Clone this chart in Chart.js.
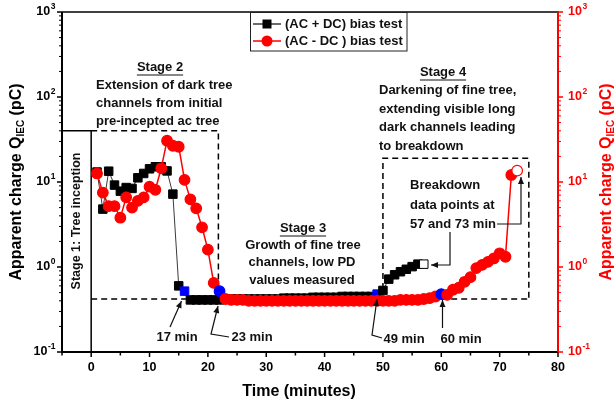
<!DOCTYPE html>
<html>
<head>
<meta charset="utf-8">
<script src="https://cdn.jsdelivr.net/npm/chart.js@4.4.1/dist/chart.umd.min.js"></script>
<style>
  html, body { margin: 0; padding: 0; background: #fff; }
  #wrap { width: 616px; height: 407px; }
</style>
</head>
<body>
<div id="wrap"><canvas id="qiecChart" width="616" height="407"></canvas></div>
<script>
'use strict';

/* ── Data ─────────────────────────────────── */
const SERIES_LABELS = ['(AC + DC) bias test', '(AC - DC ) bias test'];

// (AC + DC) bias test — time (min) / apparent charge (pC)
const TIME_PLUS = [1,2,3,4,5,6,7,8,9,10,11,12,13,14,15,16,17,18,19,20,
  21,22,23,24,25,26,27,28,29,30,31,32,33,34,35,36,37,38,39,40,
  41,42,43,44,45,46,47,48,49,50,51,52,53,54,55,56,57];
const Q_PLUS = [13.1,4.8,13.4,9.2,7.8,8.6,8.4,11.2,12.6,14.3,15.1,15.1,13.5,7.2,0.60,0.52,0.41,0.41,0.41,0.41,
  0.41,0.41,0.42,0.42,0.42,0.42,0.42,0.42,0.42,0.42,0.42,0.42,0.43,0.43,0.43,0.43,0.43,0.44,0.44,0.44,
  0.44,0.44,0.45,0.45,0.45,0.45,0.45,0.45,0.48,0.53,0.72,0.81,0.88,0.94,1.01,1.08,1.08];

// (AC - DC) bias test
const TIME_MINUS = [1,2,3,4,5,6,7,8,9,10,11,12,13,14,15,16,17,18,19,20,
  21,22,23,24,25,26,27,28,29,30,31,32,33,34,35,36,37,38,39,40,
  41,42,43,44,45,46,47,48,49,50,51,52,53,54,55,56,57,58,59,60,
  61,62,63,64,65,66,67,68,69,70,71,72,73];
const Q_MINUS = [12.6,7.5,5.2,5.2,3.8,6.6,5.0,6.0,6.6,8.8,8.1,14.5,30.6,26.7,26.0,10.6,6.25,4.9,2.93,1.6,
  0.65,0.52,0.42,0.41,0.41,0.41,0.40,0.40,0.40,0.40,0.40,0.40,0.40,0.40,0.40,0.40,0.40,0.40,0.40,0.40,
  0.40,0.40,0.40,0.40,0.40,0.40,0.40,0.40,0.40,0.40,0.40,0.40,0.41,0.41,0.41,0.41,0.42,0.43,0.45,0.48,
  0.47,0.54,0.57,0.67,0.76,0.97,1.06,1.15,1.26,1.45,1.32,12.1,13.6];

const BLUE_PLUS  = [16, 49];   // highlighted stage transitions
const OPEN_PLUS  = [57];       // breakdown point
const BLUE_MINUS = [22, 60];
const OPEN_MINUS = [73];

const X_TICKS     = [0, 10, 20, 30, 40, 50, 60, 70, 80];
const X_MINOR     = [-5, 5, 15, 25, 35, 45, 55, 65, 75];
const Y_DECADES   = [-1, 0, 1, 2, 3];

/* ── Style ────────────────────────────────── */
const FONT  = "'Liberation Sans', Arial, sans-serif";
const BLACK = '#000000';
const RED   = '#ff0000';
const BLUE  = '#0000ff';
const GREY  = '#3a3a3a';

/* ── Helpers ──────────────────────────────── */
function bold(size) { return `bold ${size}px ${FONT}`; }

function line(ctx, pts, width, color, dash) {
  ctx.save();
  ctx.strokeStyle = color; ctx.lineWidth = width;
  ctx.setLineDash(dash || []);
  ctx.beginPath();
  pts.forEach((p, i) => i ? ctx.lineTo(p[0], p[1]) : ctx.moveTo(p[0], p[1]));
  ctx.stroke();
  ctx.restore();
}

function arrow(ctx, pts) {
  line(ctx, pts, 1.2, '#111');
  const [x1, y1] = pts[pts.length - 2];
  const [x2, y2] = pts[pts.length - 1];
  const a = Math.atan2(y2 - y1, x2 - x1);
  const L = 7, W = 3;
  ctx.save();
  ctx.fillStyle = '#111';
  ctx.beginPath();
  ctx.moveTo(x2, y2);
  ctx.lineTo(x2 - L * Math.cos(a) + W * Math.sin(a), y2 - L * Math.sin(a) - W * Math.cos(a));
  ctx.lineTo(x2 - L * Math.cos(a) - W * Math.sin(a), y2 - L * Math.sin(a) + W * Math.cos(a));
  ctx.closePath();
  ctx.fill();
  ctx.restore();
}

function text(ctx, s, x, y, align, size, color) {
  ctx.save();
  ctx.font = bold(size || 13);
  ctx.fillStyle = color || '#111';
  ctx.textAlign = align || 'left';
  ctx.textBaseline = 'middle';
  ctx.fillText(s, x, y);
  ctx.restore();
}

function underlined(ctx, s, cx, y) {
  text(ctx, s, cx, y, 'center');
  ctx.save();
  ctx.font = bold(13);
  const w = ctx.measureText(s).width;
  ctx.restore();
  line(ctx, [[cx - w / 2, y + 8], [cx + w / 2, y + 8]], 1, '#111');
}

// "10" with superscript exponent
function powLabel(ctx, exp, x, y, alignRight, color) {
  ctx.save();
  ctx.fillStyle = color;
  ctx.textBaseline = 'middle';
  ctx.textAlign = 'left';
  ctx.font = bold(12.5);
  const w1 = ctx.measureText('10').width;
  ctx.font = bold(8.5);
  const w2 = ctx.measureText(String(exp)).width;
  const x0 = alignRight ? x - w1 - w2 : x;
  ctx.font = bold(12.5);
  ctx.fillText('10', x0, y);
  ctx.font = bold(8.5);
  ctx.fillText(String(exp), x0 + w1 + 0.5, y - 5);
  ctx.restore();
}

// rotated axis title with IEC subscript
function yTitle(ctx, cx, cy, color) {
  const parts = [['Apparent charge Q', 16, 0], ['IEC', 10, 4], [' (pC)', 16, 0]];
  ctx.save();
  ctx.translate(cx, cy);
  ctx.rotate(-Math.PI / 2);
  ctx.fillStyle = color;
  ctx.textBaseline = 'middle';
  ctx.textAlign = 'left';
  let total = 0;
  parts.forEach(p => { ctx.font = bold(p[1]); total += ctx.measureText(p[0]).width; });
  let x = -total / 2;
  parts.forEach(p => {
    ctx.font = bold(p[1]);
    ctx.fillText(p[0], x, p[2]);
    x += ctx.measureText(p[0]).width;
  });
  ctx.restore();
}

/* ── Figure decorations plugin ────────────── */
const figureDecor = {
  id: 'figureDecor',
  beforeDatasetsDraw(chart) {
    const { ctx, scales: { x, y } } = chart;
    const px = v => x.getPixelForValue(v);
    const py = v => y.getPixelForValue(v);
    const dash = [6, 4];
    // Stage 1 (solid)
    line(ctx, [[px(-5), py(40)], [px(0), py(40)], [px(0), py(0.1)]], 1.5, BLACK);
    // Stage 2 (dashed)
    line(ctx, [[px(0), py(40)], [px(21.8), py(40)], [px(21.8), py(0.42)]], 1.5, BLACK, dash);
    // low-PD baseline
    line(ctx, [[px(0), py(0.42)], [px(75), py(0.42)]], 1.5, BLACK, dash);
    // Stage 4 (dashed)
    line(ctx, [[px(50), py(0.42)], [px(50), py(19)], [px(75), py(19)], [px(75), py(0.42)]], 1.5, BLACK, dash);
  },
  afterDatasetsDraw(chart) {
    const { ctx, chartArea: ca, scales: { x, y } } = chart;

    /* axes frame */
    line(ctx, [[ca.left, ca.top], [ca.right, ca.top]], 1.5, BLACK);
    line(ctx, [[ca.left, ca.top], [ca.left, ca.bottom + 1]], 2, BLACK);
    line(ctx, [[ca.left - 1, ca.bottom], [ca.right, ca.bottom]], 2, BLACK);
    line(ctx, [[ca.right, ca.top - 1], [ca.right, ca.bottom + 1]], 2, RED);

    /* x ticks */
    X_TICKS.forEach(t => {
      const xp = x.getPixelForValue(t);
      line(ctx, [[xp, ca.bottom], [xp, ca.bottom + 5]], 1.5, BLACK);
      text(ctx, String(t), xp, ca.bottom + 16, 'center', 12.5, BLACK);
    });
    X_MINOR.forEach(t => {
      const xp = x.getPixelForValue(t);
      line(ctx, [[xp, ca.bottom], [xp, ca.bottom + 3.5]], 1.5, BLACK);
    });

    /* y ticks (left black, right red) */
    Y_DECADES.forEach(d => {
      const base = Math.pow(10, d);
      const yp = y.getPixelForValue(base);
      line(ctx, [[ca.left - 5, yp], [ca.left, yp]], 1.5, BLACK);
      line(ctx, [[ca.right, yp], [ca.right + 5, yp]], 1.5, RED);
      powLabel(ctx, d, 55, yp, true, BLACK);
      powLabel(ctx, d, 568, yp, false, RED);
      if (d === 3) return;
      for (let k = 2; k <= 9; k++) {
        const ym = y.getPixelForValue(k * base);
        line(ctx, [[ca.left - 3, ym], [ca.left, ym]], 1, BLACK);
        line(ctx, [[ca.right, ym], [ca.right + 3, ym]], 1, RED);
      }
    });

    /* axis titles */
    yTitle(ctx, 17, 182, BLACK);
    yTitle(ctx, 607, 182, RED);
    text(ctx, 'Time (minutes)', 299, 392, 'center', 16, BLACK);

    /* Stage 1 */
    ctx.save();
    ctx.translate(77, 221);
    ctx.rotate(-Math.PI / 2);
    text(ctx, 'Stage 1: Tree inception', 0, 0, 'center', 12.5);
    ctx.restore();

    /* Stage 2 */
    underlined(ctx, 'Stage 2', 160, 67);
    text(ctx, 'Extension of dark tree', 96, 85);
    text(ctx, 'channels from initial', 96, 103);
    text(ctx, 'pre-incepted ac tree', 96, 121);

    /* Stage 3 */
    underlined(ctx, 'Stage 3', 303, 228);
    text(ctx, 'Growth of fine tree', 303, 245, 'center');
    text(ctx, 'channels, low PD', 302, 262, 'center');
    text(ctx, 'values measured', 302, 280, 'center');

    /* Stage 4 */
    underlined(ctx, 'Stage 4', 443, 72);
    text(ctx, 'Darkening of fine tree,', 379, 90);
    text(ctx, 'extending visible long', 379, 109);
    text(ctx, 'dark channels leading', 379, 127);
    text(ctx, 'to breakdown', 379, 146);

    text(ctx, 'Breakdown', 410, 185);
    text(ctx, 'data points at', 410, 205);
    text(ctx, '57 and 73 min', 410, 224);

    /* arrow labels */
    text(ctx, '17 min', 177, 337, 'center');
    text(ctx, '23 min', 252, 337, 'center');
    text(ctx, '49 min', 404, 339, 'center');
    text(ctx, '60 min', 461, 339, 'center');

    arrow(ctx, [[170, 327], [181.5, 301]]);
    arrow(ctx, [[229, 337], [211, 334], [218, 306]]);
    arrow(ctx, [[382, 338], [372, 335], [377, 299]]);
    arrow(ctx, [[442.5, 328], [442.5, 300]]);
    arrow(ctx, [[497, 224], [521, 224], [521, 177]]);
    arrow(ctx, [[450, 232], [450, 265], [431, 265]]);

    /* legend */
    ctx.save();
    ctx.fillStyle = '#fff';
    ctx.fillRect(250, 12.5, 157, 38.5);
    ctx.strokeStyle = '#222'; ctx.lineWidth = 1;
    ctx.strokeRect(250.5, 12.5, 156.5, 38.5);
    ctx.restore();
    const rows = [[24, GREY, BLACK, 'rect'], [41, RED, RED, 'circle']];
    SERIES_LABELS.forEach((label, i) => {
      const [ly, lineColor, fill, shape] = rows[i];
      line(ctx, [[253, ly], [281, ly]], 1.5, lineColor);
      ctx.save();
      ctx.fillStyle = fill;
      ctx.beginPath();
      if (shape === 'rect') ctx.rect(262.5, ly - 4.5, 9, 9);
      else ctx.arc(267, ly, 5.5, 0, Math.PI * 2);
      ctx.fill();
      ctx.restore();
      text(ctx, label, 285, ly, 'left', 13, '#111');
    });
  }
};

/* ── Chart ────────────────────────────────── */
function initChargeChart() {
  const canvas = document.getElementById('qiecChart');

  const plusFill  = TIME_PLUS.map(t => BLUE_PLUS.includes(t) ? BLUE : OPEN_PLUS.includes(t) ? '#ffffff' : BLACK);
  const plusEdge  = TIME_PLUS.map(t => BLUE_PLUS.includes(t) ? BLUE : BLACK);
  const minusFill = TIME_MINUS.map(t => BLUE_MINUS.includes(t) ? BLUE : OPEN_MINUS.includes(t) ? '#ffffff' : RED);
  const minusEdge = TIME_MINUS.map(t => BLUE_MINUS.includes(t) ? BLUE : RED);

  new Chart(canvas.getContext('2d'), {
    type: 'line',
    data: {
      datasets: [
        {
          label: SERIES_LABELS[1],
          data: TIME_MINUS.map((t, i) => ({ x: t, y: Q_MINUS[i] })),
          yAxisID: 'y',
          borderColor: RED,
          borderWidth: 1.5,
          pointStyle: 'circle',
          pointRadius: 5.3,
          pointBorderWidth: 1.2,
          pointBackgroundColor: minusFill,
          pointBorderColor: minusEdge,
          order: 0,
        },
        {
          label: SERIES_LABELS[0],
          data: TIME_PLUS.map((t, i) => ({ x: t, y: Q_PLUS[i] })),
          yAxisID: 'y',
          borderColor: GREY,
          borderWidth: 1,
          pointStyle: 'rect',
          pointRadius: 6,
          pointBorderWidth: 1,
          pointBackgroundColor: plusFill,
          pointBorderColor: plusEdge,
          order: 1,
        },
      ],
    },
    options: {
      responsive: false,
      animation: false,
      layout: { padding: { top: 12, left: 0, right: 0, bottom: 0 } },
      plugins: { legend: { display: false }, tooltip: { enabled: false } },
      scales: {
        x: {
          type: 'linear', min: -5, max: 80, position: 'bottom',
          grid: { display: false }, border: { display: false }, ticks: { display: false },
          afterFit: s => { s.height = 55; },
        },
        y: {
          type: 'logarithmic', min: 0.1, max: 1000, position: 'left',
          grid: { display: false }, border: { display: false }, ticks: { display: false },
          afterFit: s => { s.width = 62; },
        },
        y2: {
          type: 'logarithmic', min: 0.1, max: 1000, position: 'right',
          grid: { display: false }, border: { display: false }, ticks: { display: false },
          afterFit: s => { s.width = 58; },
        },
      },
    },
    plugins: [figureDecor],
  });
}

initChargeChart();
</script>
</body>
</html>
